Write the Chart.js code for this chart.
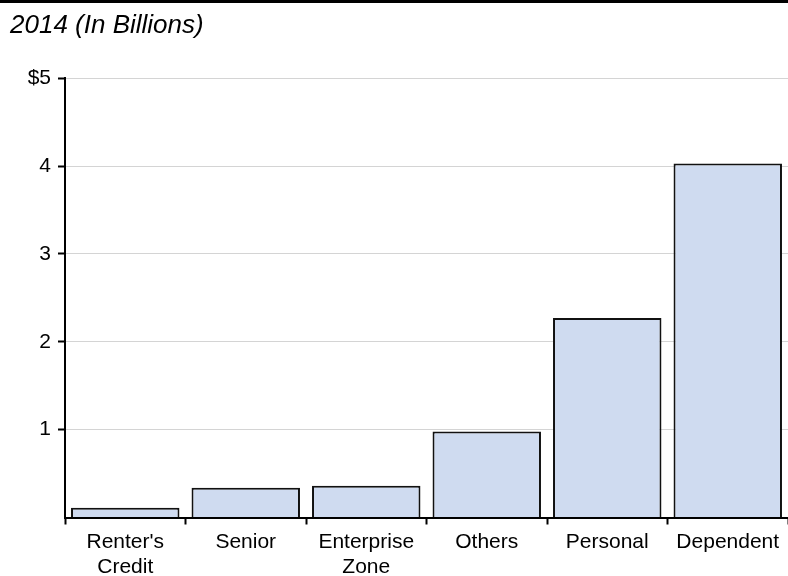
<!DOCTYPE html>
<html>
<head>
<meta charset="utf-8">
<script src="https://cdn.jsdelivr.net/npm/chart.js@4.4.1/dist/chart.umd.min.js"></script>
<style>
  body { margin: 0; background: #fff; }
  #wrap { width: 788px; height: 573px; border-top: 3px solid #000; position: relative; }
</style>
</head>
<body>
<div id="wrap"><canvas id="credits"></canvas></div>
<script>
const categories = [["Renter's", "Credit"], "Senior", ["Enterprise", "Zone"], "Others", "Personal", "Dependent"];
const amounts = [0.11, 0.34, 0.36, 0.98, 2.27, 4.03];
const yTicks = [0, 1, 2, 3, 4, 5];

Chart.defaults.font.family = "'Liberation Sans', Arial, sans-serif";
Chart.defaults.color = "#000";

const ctx = document.getElementById('credits').getContext('2d');
new Chart(ctx, {
    type: 'bar',
    data: {
        labels: categories,
        datasets: [{
            data: amounts,
            backgroundColor: '#cfdbf0',
            borderColor: '#111',
            borderWidth: 2,
            categoryPercentage: 1,
            barPercentage: 0.9
        }]
    },
    options: {
        responsive: true,
        maintainAspectRatio: false,
        animation: false,
        layout: { padding: { left: 10, right: 0, top: 0, bottom: 0 } },
        plugins: {
            legend: { display: false },
            tooltip: { enabled: false },
            title: {
                display: true,
                text: '2014 (In Billions)',
                align: 'start',
                font: { size: 26, style: 'italic', weight: 'normal', lineHeight: 1.2 },
                padding: { top: 7, bottom: 37 }
            }
        },
        scales: {
            x: {
                grid: {
                    drawOnChartArea: false,
                    drawTicks: true,
                    tickLength: 7,
                    tickColor: '#000',
                    tickWidth: 2
                },
                border: { color: '#000', width: 2 },
                ticks: { font: { size: 21, lineHeight: 1.19 }, padding: 5, maxRotation: 0, autoSkip: false },
                afterFit: (scale) => { scale.height = 58.5; }
            },
            y: {
                min: 0,
                max: 5,
                afterBuildTicks: (scale) => { scale.ticks = yTicks.map(v => ({ value: v })); },
                grid: {
                    color: (c) => c.tick && c.tick.value === 0 ? 'rgba(0,0,0,0)' : '#d4d4d4',
                    lineWidth: 1,
                    tickLength: 7,
                    tickColor: (c) => c.tick && c.tick.value === 0 ? 'rgba(0,0,0,0)' : '#000',
                    tickWidth: 2
                },
                border: { color: '#000', width: 2 },
                ticks: {
                    font: { size: 21 },
                    padding: 7,
                    callback: (v) => v === 0 ? '' : (v === 5 ? '$5' : String(v))
                },
                afterFit: (scale) => { scale.width = 55; }
            }
        }
    }
});
</script>
</body>
</html>
